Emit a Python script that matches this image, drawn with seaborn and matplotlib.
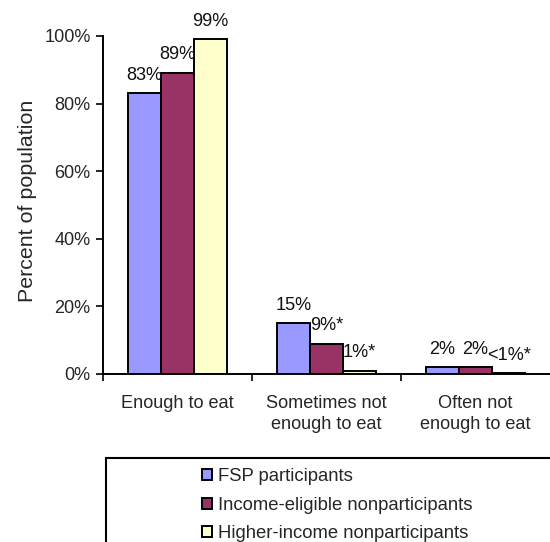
import matplotlib
matplotlib.use("Agg")
import matplotlib.pyplot as plt
from matplotlib.patches import Rectangle
from matplotlib.ticker import FixedLocator, PercentFormatter
import seaborn as sns
import pandas as pd

categories = ["Enough to eat", "Sometimes not\nenough to eat", "Often not\nenough to eat"]
groups = ["FSP participants", "Income-eligible nonparticipants", "Higher-income nonparticipants"]
fsp = [83, 15, 2]
eligible = [89, 9, 2]
higher = [99, 1, 0.2]
labels_fsp = ["83%", "15%", "2%"]
labels_eligible = ["89%", "9%*", "2%"]
labels_higher = ["99%", "1%*", "<1%*"]
colors = ["#9999FF", "#993366", "#FFFFCC"]

rows = []
for vals, g in zip([fsp, eligible, higher], groups):
    for c, v in zip(categories, vals):
        rows.append({"category": c, "group": g, "value": v})
df = pd.DataFrame(rows)

sns.set_style("white")
plt.rcParams["font.family"] = ["Liberation Sans", "DejaVu Sans"]
FS = 13.1

fig = plt.figure(figsize=(5.5, 5.42), dpi=100)
ax = fig.add_axes([103 / 550, 168 / 542, 447 / 550, 338 / 542])

sns.barplot(data=df, x="category", y="value", hue="group", order=categories,
            hue_order=groups, palette=colors, width=0.667, gap=0,
            edgecolor="black", linewidth=1.4, saturation=1, ax=ax, legend=True)

label_sets = [labels_fsp, labels_eligible, labels_higher]
for container, labs in zip(ax.containers, label_sets):
    ax.bar_label(container, labels=labs, padding=7, fontsize=FS, color="#111111")

ax.set_xlim(-0.5, 2.5)
ax.set_ylim(0, 100)
ax.yaxis.set_major_locator(FixedLocator([0, 20, 40, 60, 80, 100]))
ax.yaxis.set_major_formatter(PercentFormatter(decimals=0))
ax.tick_params(axis="y", which="major", direction="out", length=5, width=1.4,
               labelsize=FS, left=True, pad=4)
ax.tick_params(axis="x", which="major", length=0, labelsize=FS, pad=15)
for t in ax.get_xticklabels():
    t.set_linespacing(1.3)
ax.xaxis.set_minor_locator(FixedLocator([-0.5, 0.5, 1.5]))
ax.tick_params(axis="x", which="minor", direction="out", length=5, width=1.4, bottom=True)
ax.set_xlabel("")
ax.set_ylabel("Percent of population", fontsize=15.4, labelpad=5)
ax.yaxis.label.set_y(0.512)
for s in ["top", "right"]:
    ax.spines[s].set_visible(False)
for s in ["left", "bottom"]:
    ax.spines[s].set_color("black")
    ax.spines[s].set_linewidth(1.4)

handles, lbls = ax.get_legend_handles_labels()
ax.get_legend().remove()

# legend frame runs past the right and bottom edges of the figure
fig.patches.append(Rectangle((106 / 550, -0.05), 0.9, (542 - 458) / 542 + 0.05,
                             transform=fig.transFigure, facecolor="white",
                             edgecolor="black", linewidth=1.5, zorder=0))
leg = fig.legend(handles, lbls, loc="upper left",
                 bbox_to_anchor=(193 / 550, 1 - 459 / 542), frameon=False,
                 fontsize=13.3, handlelength=0.55, handleheight=0.55,
                 handletextpad=0.3, labelspacing=0.62, borderpad=0)
for h in leg.legend_handles:
    h.set_edgecolor("black")
    h.set_linewidth(1.4)

fig.savefig("out.png", dpi=100)
